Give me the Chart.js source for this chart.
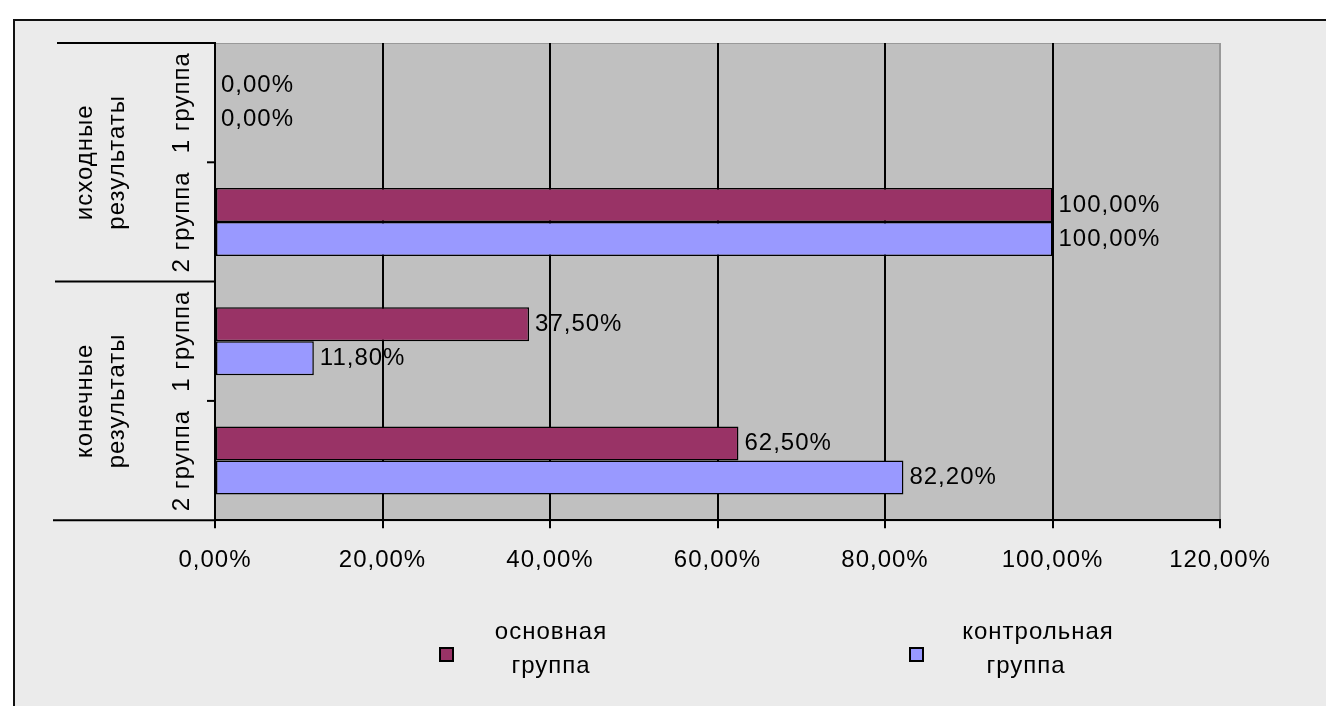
<!DOCTYPE html>
<html>
<head>
<meta charset="utf-8">
<script src="https://cdn.jsdelivr.net/npm/chart.js@4/dist/chart.umd.min.js"></script>
<style>
  html, body { margin: 0; padding: 0; background: #fff; }
  #wrap { width: 1326px; height: 706px; }
</style>
</head>
<body>
<div id="wrap"><canvas id="resultsChart" width="1326" height="706"></canvas></div>
<script>
// data
var subCategories = ['1 группа', '2 группа', '1 группа', '2 группа'];
var groupLabels = [['исходные', 'результаты'], ['конечные', 'результаты']];
var seriesNames = [['основная', 'группа'], ['контрольная', 'группа']];
var mainGroup = [0, 100, 37.5, 62.5];
var controlGroup = [0, 100, 11.8, 82.2];
var xTicks = [0, 20, 40, 60, 80, 100, 120];

var colors = ['#993366', '#9999ff'];
var FONT = '"Liberation Sans", Arial, sans-serif';

function fmtPct(v) {
    return v.toFixed(2).replace('.', ',') + '%';
}

// frame, grey plot background, category axis and data labels
var excelLook = {
    id: 'excelLook',
    beforeDraw: function(chart) {
        var c = chart.ctx, a = chart.chartArea;
        c.save();
        c.fillStyle = '#fff';
        c.fillRect(0, 0, chart.width, chart.height);
        c.fillStyle = '#ebebeb';
        c.fillRect(14, 20, chart.width - 14, chart.height - 20);
        c.strokeStyle = '#111';
        c.lineWidth = 2;
        c.beginPath();
        c.moveTo(14, chart.height);
        c.lineTo(14, 20);
        c.lineTo(chart.width, 20);
        c.stroke();
        c.fillStyle = '#c0c0c0';
        c.fillRect(a.left, a.top, a.right - a.left, a.bottom - a.top);
        c.strokeStyle = '#999';
        c.lineWidth = 1;
        c.strokeRect(a.left, a.top + 0.5, a.right - a.left, a.bottom - a.top);
        c.restore();
        // wider text like the old bitmap font (also used by the tick labels)
        c.letterSpacing = '1px';
    },
    afterDraw: function(chart) {
        var c = chart.ctx, a = chart.chartArea, y = chart.scales.y;
        c.save();
        // category axis structure
        c.strokeStyle = '#000';
        c.lineWidth = 2;
        var mid = (y.getPixelForValue(1) + y.getPixelForValue(2)) / 2;
        var lines = [[a.top, 57], [mid, 55], [a.bottom, 53]];
        lines.forEach(function(l) {
            c.beginPath();
            c.moveTo(l[1], l[0]);
            c.lineTo(a.left, l[0]);
            c.stroke();
        });
        [0, 2].forEach(function(i) {
            var ty = (y.getPixelForValue(i) + y.getPixelForValue(i + 1)) / 2;
            c.beginPath();
            c.moveTo(a.left - 8, ty);
            c.lineTo(a.left, ty);
            c.stroke();
        });
        // rotated labels
        c.fillStyle = '#000';
        c.font = '24px ' + FONT;
        c.letterSpacing = '1px';
        c.textAlign = 'center';
        c.textBaseline = 'middle';
        subCategories.forEach(function(lbl, i) {
            c.save();
            c.translate(182, y.getPixelForValue(i));
            c.rotate(-Math.PI / 2);
            c.fillText(lbl, 0, 0);
            c.restore();
        });
        groupLabels.forEach(function(lbl, g) {
            var gy = (y.getPixelForValue(g * 2) + y.getPixelForValue(g * 2 + 1)) / 2;
            [85, 117].forEach(function(px, k) {
                c.save();
                c.translate(px, gy);
                c.rotate(-Math.PI / 2);
                c.fillText(lbl[k], 0, 0);
                c.restore();
            });
        });
        // data labels
        c.textAlign = 'left';
        chart.data.datasets.forEach(function(ds, di) {
            chart.getDatasetMeta(di).data.forEach(function(bar, i) {
                c.fillText(fmtPct(ds.data[i]), bar.x + 6, bar.y);
            });
        });
        // legend
        var legendPos = [[440, 551], [910, 1038]];
        chart.data.datasets.forEach(function(ds, di) {
            var p = legendPos[di];
            c.fillStyle = ds.backgroundColor;
            c.fillRect(p[0], 648, 13, 13);
            c.strokeStyle = '#000';
            c.lineWidth = 2;
            c.strokeRect(p[0], 648, 13, 13);
            c.fillStyle = '#000';
            c.textAlign = 'center';
            c.fillText(seriesNames[di][0], p[1], 632);
            c.fillText(seriesNames[di][1], p[1] + (di ? -12 : 0), 666);
        });
        c.restore();
    }
};

var ctx = document.getElementById('resultsChart').getContext('2d');
new Chart(ctx, {
    type: 'bar',
    data: {
        labels: subCategories,
        datasets: [{
            label: seriesNames[0].join(' '),
            data: mainGroup,
            backgroundColor: colors[0],
            borderColor: '#000',
            borderWidth: 1.5,
            borderSkipped: false
        }, {
            label: seriesNames[1].join(' '),
            data: controlGroup,
            backgroundColor: colors[1],
            borderColor: '#000',
            borderWidth: 1.5,
            borderSkipped: false
        }]
    },
    options: {
        indexAxis: 'y',
        responsive: false,
        animation: false,
        categoryPercentage: 0.57,
        barPercentage: 1.0,
        layout: {
            padding: { left: 215, top: 43, right: 106, bottom: 113 }
        },
        scales: {
            x: {
                min: 0,
                max: 120,
                afterBuildTicks: function(scale) {
                    scale.ticks = xTicks.map(function(v) { return { value: v }; });
                },
                grid: {
                    color: function(c) { return c.tick && c.tick.value === 120 ? '#999' : '#000'; },
                    tickColor: '#000',
                    lineWidth: 2,
                    tickLength: 8
                },
                border: { color: '#000', width: 2 },
                ticks: {
                    color: '#000',
                    padding: 18,
                    maxRotation: 0,
                    font: { family: FONT, size: 24 },
                    callback: function(v) { return fmtPct(v); }
                }
            },
            y: {
                grid: { display: false, drawTicks: false },
                border: { color: '#000', width: 2 },
                ticks: { display: false }
            }
        },
        plugins: {
            legend: { display: false },
            tooltip: { enabled: false }
        }
    },
    plugins: [excelLook]
});
</script>
</body>
</html>
